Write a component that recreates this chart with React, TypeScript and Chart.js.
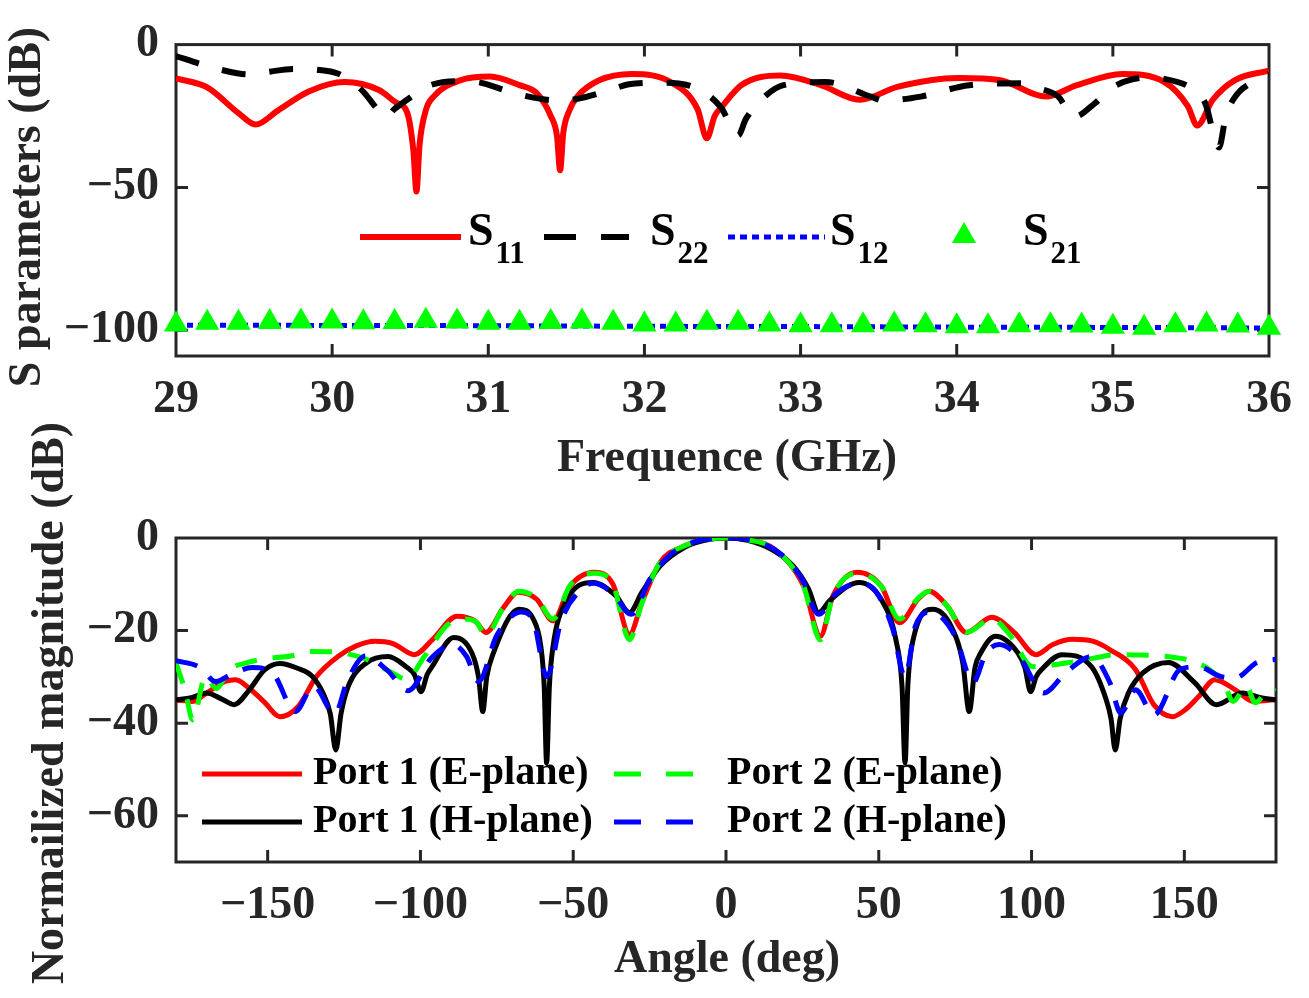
import React, { useEffect, useRef } from "react";
import { Chart, registerables } from "chart.js";

Chart.register(...registerables);

const SERIF = '"Liberation Serif", "Times New Roman", Times, serif';
const INK = "#262626";

// ---------- Top panel: S parameters versus frequency ----------
const freqTicks = [29, 30, 31, 32, 33, 34, 35, 36];
const sParamTicks = [-100, -50, 0];
const sParamNames = ["S11", "S22", "S12", "S21"];

const s11Freq = [
  29, 29.2, 29.4, 29.51, 29.65, 29.85, 30.08, 30.3, 30.41, 30.48,
  30.52, 30.54, 30.56, 30.6, 30.65, 30.82, 31.01, 31.2, 31.31, 31.4,
  31.44, 31.46, 31.48, 31.52, 31.57, 31.71, 31.92, 32.18, 32.34, 32.4,
  32.45, 32.5, 32.62, 32.87, 33.13, 33.38, 33.62, 34.01, 34.28, 34.57,
  34.77, 35.06, 35.33, 35.48, 35.54, 35.64, 35.78, 36,
];
const s11Db = [
  -11.8, -15, -24, -28, -23.2, -16.4, -13.1, -15.9, -20.3, -23.7,
  -37, -51.4, -35, -23, -18.2, -12.5, -11.2, -14.2, -17, -25,
  -32, -44, -31, -23, -18.2, -12.5, -10.3, -13.5, -22.6, -32.8,
  -25, -21.5, -14.2, -10.8, -14.2, -19.3, -14.8, -11.7, -12.5, -18.2,
  -14.2, -10.3, -13.1, -21.5, -28.3, -19.3, -12.5, -9.1,
];

const s22Freq = [
  29, 29.2, 29.4, 29.5, 29.6, 29.75, 29.9, 30.04, 30.11, 30.2,
  30.28, 30.34, 30.4, 30.48, 30.6, 30.82, 30.93, 31.12, 31.24, 31.45,
  31.57, 31.78, 31.9, 32.1, 32.22, 32.38, 32.49, 32.6, 32.65, 32.77,
  32.89, 33.16, 33.45, 33.53, 33.77, 34.08, 34.43, 34.52, 34.65, 34.75,
  34.89, 34.99, 35.23, 35.31, 35.5, 35.59, 35.68, 35.72, 35.77, 35.94,
  36,
];
const s22Db = [
  -4, -7.5, -10.1, -10.5, -9.5, -8.5, -8.8, -10.2, -12.5, -16.5,
  -22, -25.5, -22.5, -19.3, -14.8, -12.8, -13.1, -16.2, -18, -19.6,
  -19, -15.9, -13.9, -13.3, -13.6, -16.6, -22, -31.8, -26, -18.2,
  -14.2, -13.1, -18.2, -19.6, -18.2, -14.2, -13.5, -15.2, -18.2, -25.3,
  -20.3, -15.2, -11.5, -11.8, -15.2, -20.3, -36, -26, -19.3, -11.8,
  -10.1,
];

const s12Freq = [29, 30, 31, 32, 33, 34, 35, 36];
const s12Db = [-98.2, -98.3, -98.4, -98.6, -98.7, -98.9, -99.0, -99.2];

const s21Freq = [
  29, 29.2, 29.4, 29.6, 29.8, 30, 30.2, 30.4, 30.6, 30.8,
  31, 31.2, 31.4, 31.6, 31.8, 32, 32.2, 32.4, 32.6, 32.8,
  33, 33.2, 33.4, 33.6, 33.8, 34, 34.2, 34.4, 34.6, 34.8,
  35, 35.2, 35.4, 35.6, 35.8, 36,
];
const s21Db = [
  -98.0, -97.4, -97.4, -97.1, -96.9, -96.9, -97.2, -97.1, -96.7, -96.9,
  -97.4, -97.4, -97.1, -96.9, -97.4, -98.0, -98.0, -97.4, -97.4, -98.0,
  -98.2, -98.2, -98.2, -98.0, -98.2, -98.6, -98.6, -98.2, -98.2, -98.3,
  -98.8, -99.1, -98.2, -98.0, -98.3, -99.1,
];

// ---------- Bottom panel: normalized radiation patterns ----------
const angleTicks = [-150, -100, -50, 0, 50, 100, 150];
const patternTicks = [-60, -40, -20, 0];
const patternNames = ["Port 1 (E-plane)", "Port 1 (H-plane)", "Port 2 (E-plane)", "Port 2 (H-plane)"];

const p1eAngle = [
  -180, -174.5, -170, -164, -160.5, -155.5, -151, -146, -140, -134,
  -127, -121, -115, -109, -102, -96, -88, -82, -78.6, -73,
  -68, -62, -56.6, -51, -43, -37, -31.6, -27.5, -21.5, -13.5,
  -7, 0, 7, 15.8, 25.4, 30.9, 35, 43, 50.8, 56.8,
  62.9, 66.5, 72.4, 78.6, 87, 94.3, 101.4, 107, 113.5, 120,
  125.6, 134, 140, 146.1, 150.5, 154.6, 160, 166.7, 172.6, 180,
];
const p1eDb = [
  -35, -35.3, -33.5, -31, -30.6, -32.8, -35.5, -38.6, -36.4, -29.9,
  -25.6, -23.3, -22.3, -22.8, -25.2, -21.9, -16.9, -18, -20.4, -15.2,
  -11.7, -13.2, -17.9, -10.4, -7.4, -10, -20.8, -13.9, -5.2, -1.7,
  -0.4, 0, -0.4, -2.4, -10.4, -21.2, -12.5, -7.4, -10.4, -18.3,
  -13.2, -11.5, -14.7, -20.4, -17.1, -20.4, -25.2, -23, -21.9, -22.3,
  -24.1, -28.4, -36, -38.6, -37, -34.3, -30.6, -32.8, -35.3, -34.9,
];

const p1hAngle = [
  -180, -175, -170, -165, -161, -156, -151, -146, -140, -135.4,
  -131.9, -129.5, -127.7, -126, -123.6, -117.7, -110.6, -104.7, -102, -99.8,
  -97.8, -96.2, -89.1, -83.2, -81, -79.6, -78.3, -76.1, -67.8, -63,
  -60.6, -59.5, -58.7, -57.8, -56.6, -52.5, -43.5, -36, -31.6, -27.5,
  -21.5, -13.5, -7, 0, 7, 15, 21.9, 27, 30.3, 34,
  43.6, 51, 55.6, 57.6, 58.6, 59.5, 60.8, 67.7, 73.7, 77.5,
  79.6, 81.5, 83.4, 88.2, 95.5, 97.8, 99.7, 101.5, 103.3, 109.9,
  119.6, 124.4, 126, 127.4, 129, 131.7, 136.5, 144.8, 153.3, 160.5,
  169, 175, 180,
];
const p1hDb = [
  -35, -34.5, -33.5, -34.8, -36, -32.8, -28.5, -27.1, -28.2, -29.9,
  -33.5, -38, -45.8, -38, -32, -27, -25.6, -27.8, -29.5, -33.2,
  -29.5, -27.8, -21.5, -24.8, -30, -37.5, -30, -24.8, -15.4, -17.6,
  -23.4, -32, -48.6, -32, -23.4, -13.9, -9.6, -12.5, -16.1, -11.7,
  -6, -2, -0.5, 0, -0.5, -2.5, -6, -11, -16.1, -13.5,
  -9.6, -13.5, -22, -32, -48.6, -32, -23.4, -15.4, -19.1, -27,
  -37.5, -28, -24.8, -21.2, -24.8, -28, -33.2, -30, -28.4, -25.2,
  -27.8, -34.9, -39, -45.8, -39, -33.5, -29.1, -26.9, -31.2, -36,
  -33.5, -34.5, -35,
];

const p2eAngle = [
  -180, -177, -174.5, -170.4, -166.8, -162.6, -157, -152, -142.5, -135.4,
  -125.9, -117.7, -109.3, -104.6, -98.6, -91.5, -86.8, -82, -78.6, -73,
  -67.8, -62, -56.6, -51, -43, -37, -31.6, -27.5, -21.5, -13.5,
  -7, 0, 7, 15.8, 25.4, 30.9, 35, 43, 50.8, 56.8,
  62.9, 66.5, 72.4, 78.6, 87, 93, 100.3, 106, 112.4, 120,
  128, 136, 144.3, 152, 158.2, 163, 166, 170.3, 173.2, 176,
  180,
];
const p2eDb = [
  -27, -33, -39.3, -30, -32.5, -28.5, -27, -26.2, -25.5, -24.5,
  -24.8, -26.2, -29.1, -30.5, -25.5, -19, -17.5, -18, -21, -15.2,
  -11.5, -13, -17.5, -10.2, -7.6, -10, -22, -14, -5.2, -1.7,
  -0.4, 0, -0.4, -2.4, -10.4, -22, -12.5, -7.6, -10.4, -17.5,
  -13, -11.5, -14.7, -20.4, -17.5, -21, -27.8, -27.5, -26.9, -26,
  -25.2, -25.3, -25.6, -26.5, -28.4, -31.5, -35.3, -32, -35.6, -34,
  -32.8,
];

const p2hAngle = [
  -180, -172, -167, -162, -155, -148, -141, -135, -128, -124,
  -118, -111, -104, -96.5, -89.5, -85, -81, -75, -67, -63,
  -58.6, -54, -48, -43.5, -37, -31, -25, -18, -10, 0,
  10, 18, 25, 30.3, 36, 43.6, 49, 54.5, 58.6, 62,
  67, 75, 80.9, 85, 89.4, 96.5, 103.9, 111.2, 119.6, 125.6,
  129.2, 134, 140.1, 148.6, 154.6, 161.8, 166.7, 173.8, 180,
];
const p2hDb = [
  -26.5, -28, -31, -29.5, -28, -29.5, -37.5, -32, -38, -31,
  -25.5, -28.5, -33, -26, -23, -25.5, -31, -21, -16, -18,
  -30, -18, -11.5, -9.8, -12, -16.5, -9, -3.5, -0.8, 0,
  -0.8, -3.5, -9, -16.5, -12, -9.8, -11.5, -19.5, -30, -19,
  -16, -21.2, -31.2, -25, -23, -26.2, -33.5, -29.1, -25.6, -31.2,
  -37.8, -32.8, -38.2, -28.4, -27.8, -29.9, -30.2, -26.9, -26.2,
];

// ---------- helpers ----------
const pairs = (xs: number[], ys: number[]) => xs.map((x, i) => ({ x, y: ys[i] }));
const fmtTick = (v: number | string) => {
  const n = Number(v);
  return n < 0 ? "\u2212" + Math.abs(n) : String(n);
};

// Box outline with inward-pointing tick marks on all four sides
const boxPlugin = {
  id: "box",
  beforeDatasetsDraw(chart: any) {
    const { ctx, chartArea: a, scales } = chart;
    const len = 12;
    ctx.save();
    ctx.strokeStyle = INK;
    ctx.lineWidth = 3;
    ctx.beginPath();
    for (const t of scales.x.ticks) {
      const px = scales.x.getPixelForValue(t.value);
      if (px <= a.left + 2 || px >= a.right - 2) continue;
      ctx.moveTo(px, a.bottom);
      ctx.lineTo(px, a.bottom - len);
      ctx.moveTo(px, a.top);
      ctx.lineTo(px, a.top + len);
    }
    for (const t of scales.y.ticks) {
      const py = scales.y.getPixelForValue(t.value);
      if (py <= a.top + 2 || py >= a.bottom - 2) continue;
      ctx.moveTo(a.left, py);
      ctx.lineTo(a.left + len, py);
      ctx.moveTo(a.right, py);
      ctx.lineTo(a.right - len, py);
    }
    ctx.stroke();
    ctx.strokeRect(a.left, a.top, a.right - a.left, a.bottom - a.top);
    ctx.restore();
  },
};

// Axis titles
const titlesPlugin = {
  id: "axisTitles",
  afterDraw(chart: any, _args: any, o: any) {
    const { ctx } = chart;
    ctx.save();
    ctx.fillStyle = INK;
    ctx.font = `bold ${o.size}px ${SERIF}`;
    ctx.textAlign = "center";
    ctx.textBaseline = "middle";
    ctx.fillText(o.xText, o.xX, o.xY);
    ctx.translate(o.yX, o.yY);
    ctx.rotate(-Math.PI / 2);
    ctx.fillText(o.yText, 0, 0);
    ctx.restore();
  },
};

// Legend drawn inside the plot, styled from each dataset
const keyPlugin = {
  id: "key",
  afterDraw(chart: any, _args: any, o: any) {
    const { ctx } = chart;
    const items = o.items;
    chart.data.datasets.forEach((ds: any, i: number) => {
      const it = items[i];
      if (!it) return;
      ctx.save();
      if (ds.showLine === false) {
        const cx = (it.x1 + it.x2) / 2;
        const r = ds.pointRadius;
        const h = r * Math.sin((2 * Math.PI) / 3);
        ctx.fillStyle = ds.backgroundColor;
        ctx.beginPath();
        ctx.moveTo(cx, it.y - r);
        ctx.lineTo(cx + h, it.y + r / 2);
        ctx.lineTo(cx - h, it.y + r / 2);
        ctx.closePath();
        ctx.fill();
      } else {
        ctx.strokeStyle = ds.borderColor;
        ctx.lineWidth = ds.borderWidth;
        ctx.lineCap = "butt";
        ctx.setLineDash(it.dash ? [it.dash[0], it.dash[1]] : []);
        ctx.beginPath();
        ctx.moveTo(it.x1, it.y);
        ctx.lineTo(it.x2, it.y);
        ctx.stroke();
      }
      ctx.setLineDash([]);
      ctx.fillStyle = "#000";
      ctx.textAlign = "left";
      const label: string = ds.label;
      if (o.subscript) {
        const main = label.slice(0, 1);
        const sub = label.slice(1);
        ctx.textBaseline = "alphabetic";
        ctx.font = `bold ${o.size}px ${SERIF}`;
        ctx.fillText(main, it.tx, it.base);
        const w = ctx.measureText(main).width;
        ctx.font = `bold ${o.subSize}px ${SERIF}`;
        ctx.fillText(sub, it.tx + w + 2, it.base + o.subDrop);
      } else {
        ctx.textBaseline = "middle";
        ctx.font = `bold ${o.size}px ${SERIF}`;
        ctx.fillText(label, it.tx, it.y);
      }
      ctx.restore();
    });
  },
};

const tickFont = { family: SERIF, size: 46, weight: "bold" as const, lineHeight: 1.2 };

function scaleX(min: number, max: number, ticks: number[], height: number) {
  return {
    type: "linear" as const,
    min,
    max,
    afterBuildTicks: (s: any) => {
      s.ticks = ticks.map((value) => ({ value }));
    },
    afterFit: (s: any) => {
      s.height = height;
    },
    grid: { display: false, drawTicks: false },
    border: { display: false },
    ticks: {
      font: tickFont,
      color: INK,
      padding: 17,
      autoSkip: false,
      maxRotation: 0,
      callback: fmtTick,
    },
  };
}

function scaleY(min: number, max: number, ticks: number[], width: number) {
  return {
    type: "linear" as const,
    min,
    max,
    afterBuildTicks: (s: any) => {
      s.ticks = ticks.map((value) => ({ value }));
    },
    afterFit: (s: any) => {
      s.width = width;
    },
    grid: { display: false, drawTicks: false },
    border: { display: false },
    ticks: {
      font: tickFont,
      color: INK,
      padding: 17,
      autoSkip: false,
      callback: fmtTick,
    },
  };
}

function line(label: string, xs: number[], ys: number[], color: string, width: number, dash: number[], order: number) {
  return {
    label,
    data: pairs(xs, ys),
    borderColor: color,
    backgroundColor: color,
    borderWidth: width,
    borderDash: dash,
    borderCapStyle: "butt" as const,
    borderJoinStyle: "round" as const,
    pointRadius: 0,
    fill: false,
    cubicInterpolationMode: "monotone" as const,
    order,
  };
}

function topConfig(): any {
  return {
    type: "line",
    data: {
      datasets: [
        line(sParamNames[0], s11Freq, s11Db, "#FF0000", 6, [], 4),
        line(sParamNames[1], s22Freq, s22Db, "#000000", 6, [24, 24], 3),
        line(sParamNames[2], s12Freq, s12Db, "#0000FF", 5, [6, 5], 2),
        {
          label: sParamNames[3],
          data: pairs(s21Freq, s21Db),
          showLine: false,
          pointStyle: "triangle",
          pointRadius: 14,
          pointBorderWidth: 0,
          backgroundColor: "#00FF00",
          borderColor: "#00FF00",
          clip: false,
          order: 1,
        },
      ],
    },
    options: {
      animation: false,
      responsive: false,
      devicePixelRatio: 1,
      layout: { padding: { left: 0, right: 33, top: 33, bottom: 0 } },
      scales: {
        x: scaleX(29, 36, freqTicks, 134),
        y: scaleY(-109, 0, sParamTicks, 176),
      },
      plugins: {
        legend: { display: false },
        tooltip: { enabled: false },
        axisTitles: {
          size: 46,
          xText: "Frequence (GHz)",
          xX: 727,
          xY: 459,
          yText: "S parameters (dB)",
          yX: 28,
          yY: 207,
        },
        key: {
          subscript: true,
          size: 46,
          subSize: 31,
          subDrop: 18,
          items: [
            { x1: 360, x2: 461, y: 237, tx: 468, base: 245 },
            { x1: 544, x2: 629, y: 237, tx: 650, base: 245, dash: [32, 25] },
            { x1: 728, x2: 825, y: 237, tx: 830, base: 245, dash: [7, 5] },
            { x1: 944, x2: 984, y: 236, tx: 1023, base: 245 },
          ],
        },
      },
    },
    plugins: [boxPlugin, titlesPlugin, keyPlugin],
  };
}

// Bottom canvas starts at page y = 400 so its long rotated title fits
function bottomConfig(): any {
  return {
    type: "line",
    data: {
      datasets: [
        line(patternNames[0], p1eAngle, p1eDb, "#FF0000", 5, [], 4),
        line(patternNames[1], p1hAngle, p1hDb, "#000000", 5, [], 3),
        line(patternNames[2], p2eAngle, p2eDb, "#00FF00", 5, [22, 16], 2),
        line(patternNames[3], p2hAngle, p2hDb, "#0000FF", 5, [22, 16], 1),
      ],
    },
    options: {
      animation: false,
      responsive: false,
      devicePixelRatio: 1,
      layout: { padding: { left: 0, right: 33, top: 138, bottom: 0 } },
      scales: {
        x: scaleX(-180, 180, angleTicks, 136),
        y: scaleY(-70, 0, patternTicks, 176),
      },
      plugins: {
        legend: { display: false },
        tooltip: { enabled: false },
        axisTitles: {
          size: 46,
          xText: "Angle (deg)",
          xX: 727,
          xY: 560,
          yText: "Normailized magnitude (dB)",
          yX: 51,
          yY: 303,
        },
        key: {
          subscript: false,
          size: 40,
          items: [
            { x1: 202, x2: 302, y: 374, tx: 313 },
            { x1: 202, x2: 302, y: 422, tx: 313 },
            { x1: 614, x2: 693, y: 374, tx: 727, dash: [27, 25] },
            { x1: 614, x2: 693, y: 422, tx: 727, dash: [27, 25] },
          ],
        },
      },
    },
    plugins: [boxPlugin, titlesPlugin, keyPlugin],
  };
}

export default function App() {
  const topRef = useRef<HTMLCanvasElement>(null);
  const bottomRef = useRef<HTMLCanvasElement>(null);

  useEffect(() => {
    const top = new Chart(topRef.current!, topConfig());
    const bottom = new Chart(bottomRef.current!, bottomConfig());
    return () => {
      top.destroy();
      bottom.destroy();
    };
  }, []);

  return (
    <div style={{ position: "absolute", left: 0, top: 0, width: 1309, height: 998, background: "#fff" }}>
      <canvas ref={topRef} width={1309} height={490} style={{ position: "absolute", left: 0, top: 0 }} />
      <canvas ref={bottomRef} width={1309} height={598} style={{ position: "absolute", left: 0, top: 400 }} />
    </div>
  );
}
